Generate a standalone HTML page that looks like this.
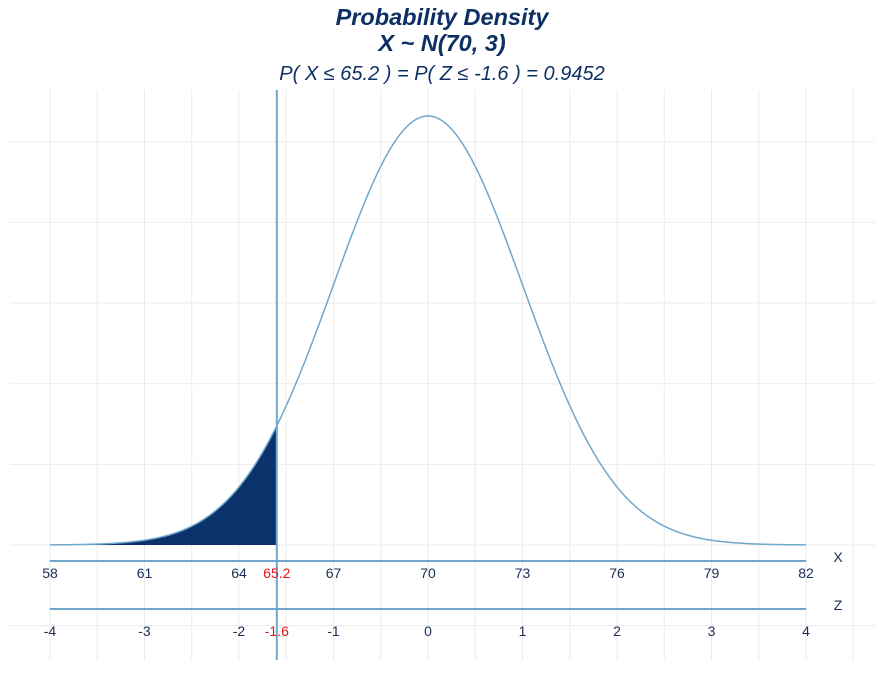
<!DOCTYPE html>
<html><head><meta charset="utf-8"><style>
body{margin:0;background:#fff;width:885px;height:691px;overflow:hidden}
svg text{font-family:"Liberation Sans",Arial,sans-serif}
</style></head><body>
<svg id="c" width="885" height="691">
<text x="442" y="25" text-anchor="middle" font-size="23.5" font-weight="bold" font-style="italic" fill="#0d2f63">Probability Density</text>
<text x="442" y="51" text-anchor="middle" font-size="23.5" font-weight="bold" font-style="italic" fill="#0d2f63">X ~ N(70, 3)</text>
<text x="442" y="80" text-anchor="middle" font-size="20" font-style="italic" fill="#0d2f63">P( X ≤ 65.2 ) = P( Z ≤ -1.6 ) = 0.9452</text>
<g id="grid"></g><g id="marks"></g>
</svg>
<script>
const mean=[70];
const sd=[3];
const cutoff=[65.2];
const xTicks=[58,61,64,67,70,73,76,79,82];
const zTicks=[-4,-3,-2,-1,0,1,2,3,4];
const yGrid=[-0.025,0,0.025,0.05,0.075,0.1,0.125];
const NS='http://www.w3.org/2000/svg';
const m=mean[0],s=sd[0],c=cutoff[0];
const xs=v=>50+(v-58)*31.5;
const ys=v=>545-v*3226;
const dn=v=>Math.exp(-0.5*((v-m)/s)**2)/(s*Math.sqrt(2*Math.PI));
function mk(t,a,p){const e=document.createElementNS(NS,t);for(const k in a)e.setAttribute(k,a[k]);(p||document.getElementById('marks')).appendChild(e);return e;}
const g=document.getElementById('grid');
yGrid.forEach(v=>{const l=mk('line',{x1:10,x2:875,y1:ys(v),y2:ys(v),stroke:'#ebebeb','stroke-width':1},g);

});
for(let v=58;v<=83.5;v+=1.5){const l=mk('line',{x1:xs(v),x2:xs(v),y1:90,y2:660,stroke:'#ebebeb','stroke-width':1},g);

}
let d='M'+xs(58)+','+ys(0);
for(let v=58;v<=c;v+=0.02)d+=' L'+xs(v).toFixed(2)+','+ys(dn(v)).toFixed(2);
d+=' L'+xs(c)+','+ys(dn(c))+' L'+xs(c)+','+ys(0)+'Z';
const a=mk('path',{d:d,fill:'#0b326a'});


let d2='';
for(let v=58;v<=82.001;v+=0.05)d2+=(d2?' L':'M')+xs(v).toFixed(2)+','+ys(dn(v)).toFixed(2);
const cv=mk('path',{d:d2,fill:'none',stroke:'#6fa8cc','stroke-width':1.5});


const xa=mk('line',{x1:50,x2:806,y1:561,y2:561,stroke:'#6fa8cc','stroke-width':2});


const za=mk('line',{x1:50,x2:806,y1:609,y2:609,stroke:'#6fa8cc','stroke-width':2});


const vl=mk('line',{x1:xs(c),x2:xs(c),y1:90,y2:660,stroke:'#6fa8cc','stroke-width':2});


xTicks.forEach(v=>{const t=mk('text',{x:xs(v),y:578,'text-anchor':'middle','font-size':14,fill:'#1a2e55'});t.textContent=v;

});
zTicks.forEach(v=>{const t=mk('text',{x:xs(m+v*s),y:636,'text-anchor':'middle','font-size':14,fill:'#1a2e55'});t.textContent=v;

});
const cx=mk('text',{x:xs(c),y:578,'text-anchor':'middle','font-size':14,fill:'#e8161b'});cx.textContent=c;


const cz=mk('text',{x:xs(c),y:636,'text-anchor':'middle','font-size':14,fill:'#e8161b'});cz.textContent=((c-m)/s).toFixed(1);


const lx=mk('text',{x:838,y:562,'text-anchor':'middle','font-size':14,fill:'#1a2e55'});lx.textContent='X';


const lz=mk('text',{x:838,y:610,'text-anchor':'middle','font-size':14,fill:'#1a2e55'});lz.textContent='Z';


</script>
</body></html>
